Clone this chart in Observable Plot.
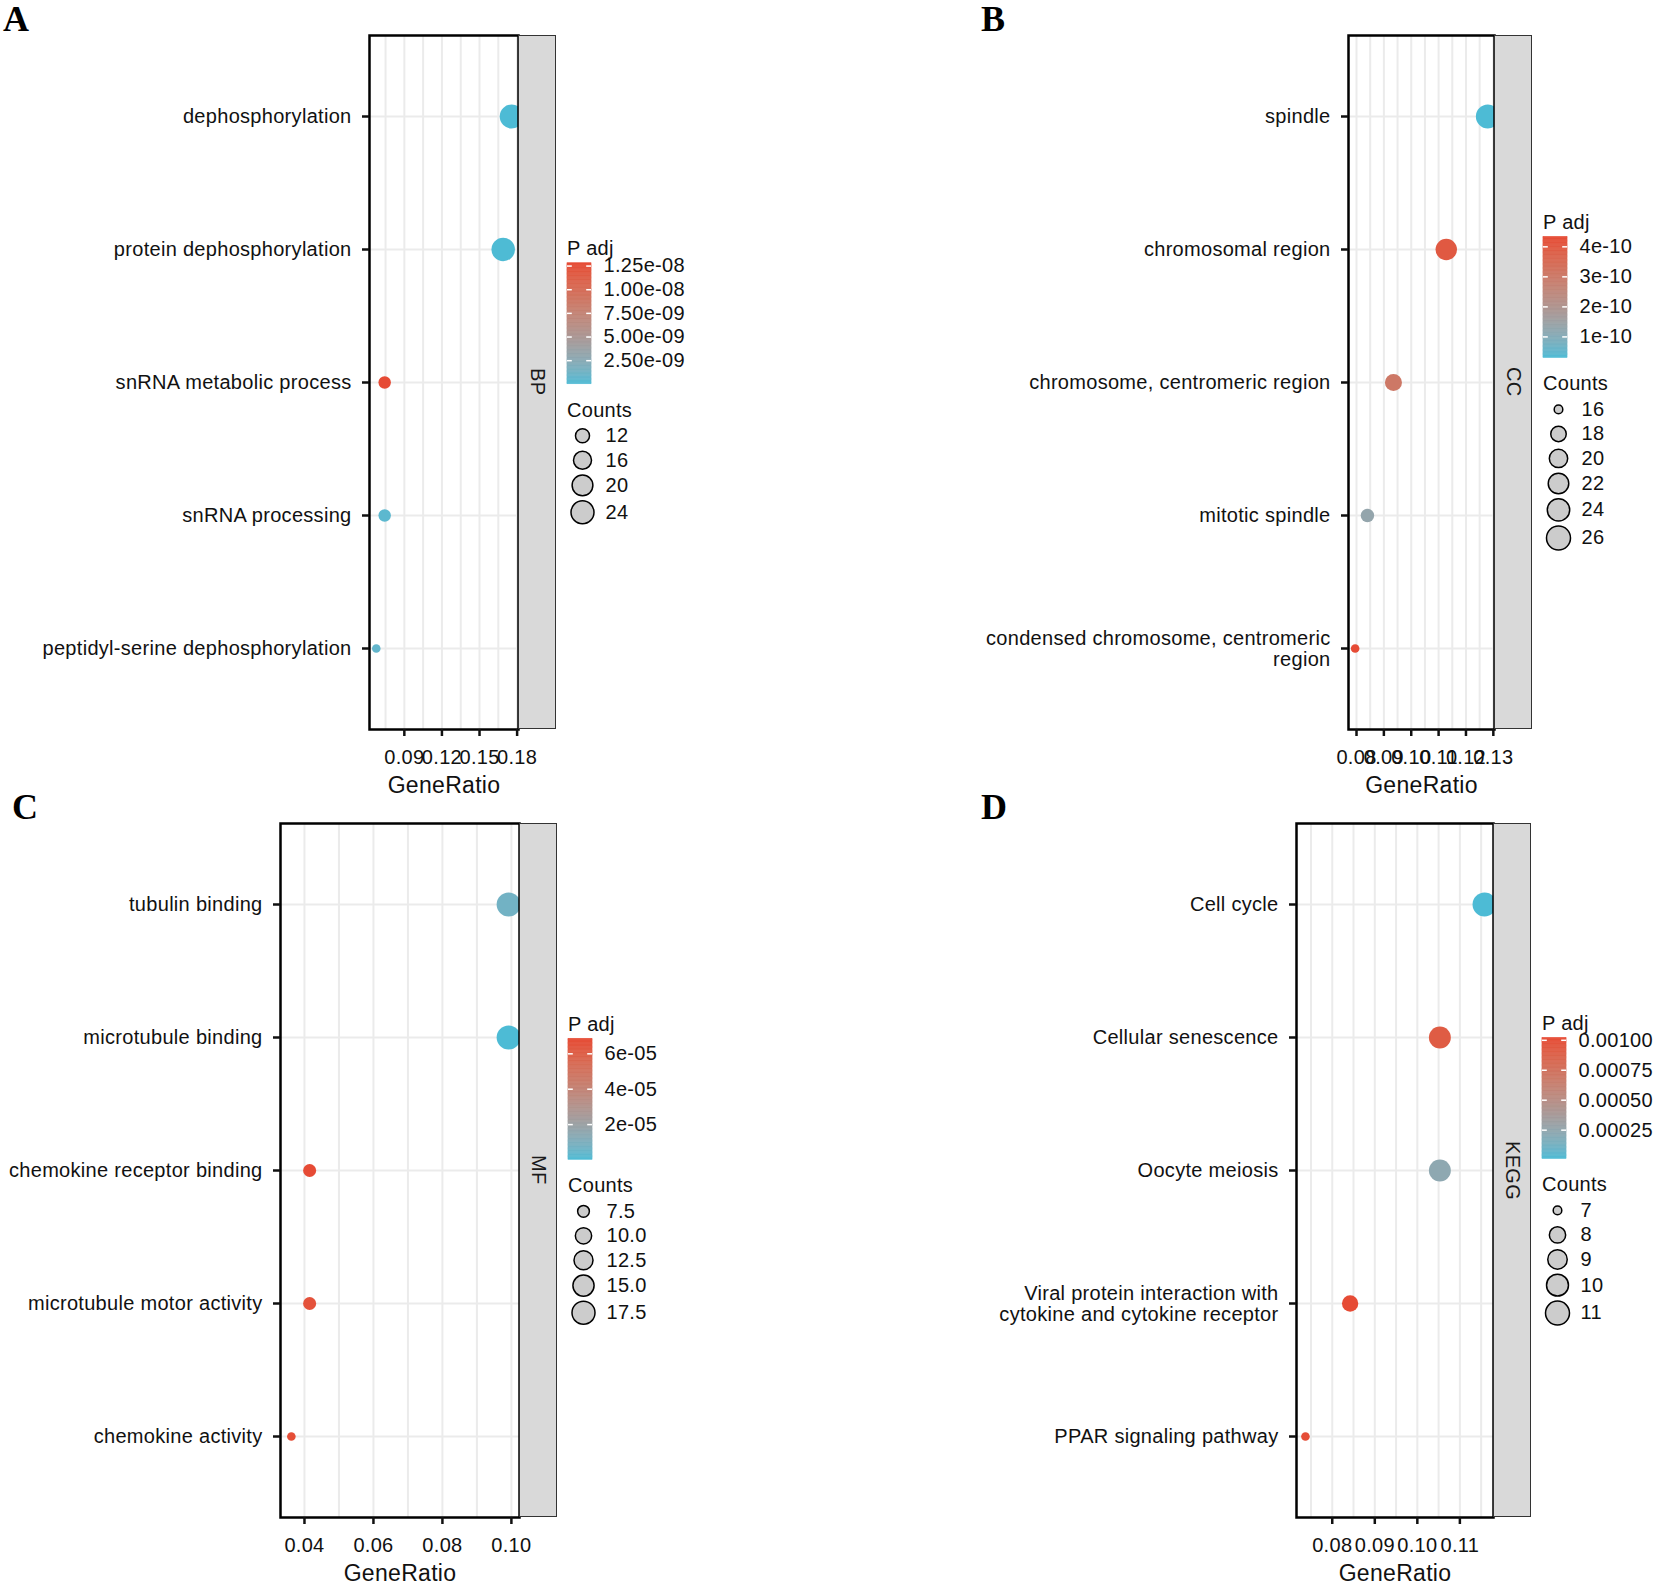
<!DOCTYPE html>
<html><head><meta charset="utf-8">
<script src="https://cdn.jsdelivr.net/npm/d3@7"></script>
<script src="https://cdn.jsdelivr.net/npm/@observablehq/plot@0.6"></script>
<style>
body{margin:0;background:#fff;}
#fig{position:relative;width:1654px;height:1585px;overflow:hidden;background:#fff;font-family:"Liberation Sans",Arial,sans-serif;}
.abs{position:absolute;}
.letter{font-family:"Liberation Serif","Times New Roman",serif;font-weight:bold;font-size:36px;line-height:1;color:#000;}
.strip{background:#d9d9d9;border:1.5px solid #333;box-sizing:border-box;display:flex;align-items:center;justify-content:center;}
.strip span{writing-mode:vertical-rl;font-size:20px;color:#1a1a1a;letter-spacing:0.3px;}
.ltitle{font-size:20px;line-height:24px;color:#111;letter-spacing:0.3px;white-space:nowrap;}
</style></head><body><div id="fig"></div>
<script>
// ---------- A: BP ----------
const bpTerms = ["dephosphorylation","protein dephosphorylation","snRNA metabolic process","snRNA processing","peptidyl-serine dephosphorylation"];
const bpRatio = [0.1757,0.1689,0.0743,0.0743,0.0676];
const bpCount = [26,25,11,11,10];
const bpPadj = [1.2e-11,5.0e-11,1.28e-8,4.5e-10,7.0e-10];
const bpTicks = [0.09,0.12,0.15,0.18];
const bpTickLabels = ["0.09","0.12","0.15","0.18"];
const bpPadjBreaks = [1.25e-8,1.0e-8,7.5e-9,5.0e-9,2.5e-9];
const bpPadjLabels = ["1.25e-08","1.00e-08","7.50e-09","5.00e-09","2.50e-09"];
const bpCountBreaks = [12,16,20,24];
const bpCountLabels = ["12","16","20","24"];

// ---------- B: CC ----------
const ccTerms = ["spindle","chromosomal region","chromosome, centromeric region","mitotic spindle","condensed chromosome, centromeric\nregion"];
const ccRatio = [0.1280,0.1128,0.0935,0.0840,0.0795];
const ccCount = [26,23,19,17,16];
const ccPadj = [3.0e-11,4.0e-10,3.05e-10,1.3e-10,4.33e-10];
const ccTicks = [0.08,0.09,0.10,0.11,0.12,0.13];
const ccTickLabels = ["0.08","0.09","0.10","0.11","0.12","0.13"];
const ccPadjBreaks = [4e-10,3e-10,2e-10,1e-10];
const ccPadjLabels = ["4e-10","3e-10","2e-10","1e-10"];
const ccCountBreaks = [16,18,20,22,24,26];
const ccCountLabels = ["16","18","20","22","24","26"];

// ---------- C: MF ----------
const mfTerms = ["tubulin binding","microtubule binding","chemokine receptor binding","microtubule motor activity","chemokine activity"];
const mfRatio = [0.0992,0.0992,0.0415,0.0415,0.0362];
const mfCount = [19,19,8,8,7];
const mfPadj = [7.0e-6,1.0e-7,6.85e-5,6.6e-5,6.75e-5];
const mfTicks = [0.04,0.06,0.08,0.10];
const mfTickLabels = ["0.04","0.06","0.08","0.10"];
const mfPadjBreaks = [6e-5,4e-5,2e-5];
const mfPadjLabels = ["6e-05","4e-05","2e-05"];
const mfCountBreaks = [7.5,10,12.5,15,17.5];
const mfCountLabels = ["7.5","10.0","12.5","15.0","17.5"];

// ---------- D: KEGG ----------
const keggTerms = ["Cell cycle","Cellular senescence","Oocyte meiosis","Viral protein interaction with\ncytokine and cytokine receptor","PPAR signaling pathway"];
const keggRatio = [0.1158,0.1053,0.1053,0.0842,0.0737];
const keggCount = [11,10,10,8,7];
const keggPadj = [1.0e-5,9.2e-4,2.3e-4,1.02e-3,1.01e-3];
const keggTicks = [0.08,0.09,0.10,0.11];
const keggTickLabels = ["0.08","0.09","0.10","0.11"];
const keggPadjBreaks = [0.001,0.00075,0.0005,0.00025];
const keggPadjLabels = ["0.00100","0.00075","0.00050","0.00025"];
const keggCountBreaks = [7,8,9,10,11];
const keggCountLabels = ["7","8","9","10","11"];

const panels = [
  {letter:"A", strip:"BP", terms:bpTerms, ratio:bpRatio, count:bpCount, padj:bpPadj, ticks:bpTicks, tickLabels:bpTickLabels,
   pb:bpPadjBreaks, pl:bpPadjLabels, cb:bpCountBreaks, cl:bpCountLabels,
   L:{oy:0, svgLeft:0, frameL:369, frameR:518, letterX:3}},
  {letter:"B", strip:"CC", terms:ccTerms, ratio:ccRatio, count:ccCount, padj:ccPadj, ticks:ccTicks, tickLabels:ccTickLabels,
   pb:ccPadjBreaks, pl:ccPadjLabels, cb:ccCountBreaks, cl:ccCountLabels,
   L:{oy:0, svgLeft:827, frameL:1348, frameR:1494, letterX:981}},
  {letter:"C", strip:"MF", terms:mfTerms, ratio:mfRatio, count:mfCount, padj:mfPadj, ticks:mfTicks, tickLabels:mfTickLabels,
   pb:mfPadjBreaks, pl:mfPadjLabels, cb:mfCountBreaks, cl:mfCountLabels,
   L:{oy:788, svgLeft:0, frameL:280, frameR:519, letterX:12}},
  {letter:"D", strip:"KEGG", terms:keggTerms, ratio:keggRatio, count:keggCount, padj:keggPadj, ticks:keggTicks, tickLabels:keggTickLabels,
   pb:keggPadjBreaks, pl:keggPadjLabels, cb:keggCountBreaks, cl:keggCountLabels,
   L:{oy:788, svgLeft:827, frameL:1296, frameR:1493, letterX:981}}
];

const LOW = "#4DBBD5", HIGH = "#E64B35";
const RMIN = 4.3, RMAX = 12;
const FRAME_TOP = 35, FRAME_BOTTOM = 729, STRIP_W = 38;
const baseStyle = {fontFamily:'"Liberation Sans", Arial, sans-serif', letterSpacing:"0.3px", background:"transparent", overflow:"visible", color:"#111"};
const fig = document.getElementById("fig");

function place(el, left, top){ el.style.position="absolute"; el.style.left=left+"px"; el.style.top=top+"px"; fig.appendChild(el); return el; }
function div(cls, text, left, top, extra){ const d=document.createElement("div"); d.className="abs "+cls; if(text!=null) d.textContent=text; Object.assign(d.style, extra||{}); return place(d,left,top); }

function colorCfg(P){ return {type:"linear", domain:d3.extent(P.padj), range:[LOW,HIGH], interpolate:"lab"}; }
function rCfg(P){ const cmin=d3.min(P.count), cmax=d3.max(P.count);
  return {type:"sqrt", domain:[0, cmax-cmin+1e-6], range:[RMIN,RMAX], transform: v => v - cmin + 1e-6}; }
function radius(P, v){ const cmin=d3.min(P.count), cmax=d3.max(P.count); return RMIN + Math.sqrt((v-cmin)/(cmax-cmin))*(RMAX-RMIN); }

for (const P of panels){
  const L = P.L;
  const data = P.terms.map((t,i)=>({term:t, ratio:P.ratio[i], count:P.count[i], padj:P.padj[i]}));
  const [x0,x1] = d3.extent(P.ratio); const pad=(x1-x0)*0.05; const xdom=[x0-pad,x1+pad];
  const step = P.ticks[1]-P.ticks[0];
  const minor = [P.ticks[0]-step/2, ...P.ticks.map(t=>t+step/2)].filter(v=>v>xdom[0] && v<xdom[1]);

  const main = Plot.plot({
    width: L.frameR + 2 - L.svgLeft, height: 800,
    marginLeft: L.frameL - L.svgLeft, marginRight: 2, marginTop: FRAME_TOP, marginBottom: 800 - FRAME_BOTTOM,
    style: baseStyle,
    x: {domain: xdom, label: null},
    y: {type: "point", domain: P.terms, padding: 0.6, label: null},
    color: colorCfg(P),
    r: rCfg(P),
    marks: [
      Plot.ruleX([...P.ticks, ...minor], {stroke:"#ebebeb", strokeWidth:2}),
      Plot.ruleY(P.terms, {stroke:"#ebebeb", strokeWidth:2}),
      Plot.dot(data, {x:"ratio", y:"term", r:"count", fill:"padj", clip:true}),
      Plot.frame({stroke:"black", strokeWidth:2.5}),
      Plot.axisX(P.ticks, {anchor:"bottom", tickSize:7, tickPadding:13, fontSize:20, strokeWidth:2.5, color:"#111",
        tickFormat: d => P.tickLabels[P.ticks.indexOf(d)], label:null}),
      Plot.axisY(P.terms, {anchor:"left", tickSize:7, tickPadding:11, fontSize:20, lineHeight:1.08, strokeWidth:2.5, color:"#111",
        tickFormat: d => d, label:null}),
      Plot.text(["GeneRatio"], {frameAnchor:"bottom", dy:63, fontSize:23, fill:"#111"})
    ]
  });
  place(main, L.svgLeft, L.oy);

  // strip
  const s = div("strip", null, L.frameR, L.oy + FRAME_TOP, {width:STRIP_W+"px", height:(FRAME_BOTTOM-FRAME_TOP)+"px"});
  const sp = document.createElement("span"); sp.textContent = P.strip; s.appendChild(sp);

  // letter
  div("letter", P.letter, L.letterX, L.oy + 1);

  // legend layout (centered on panel)
  const barLeft = L.frameR + STRIP_W + 11;
  const center = L.oy + (FRAME_TOP + FRAME_BOTTOM)/2;
  const h = P.cb.map(v => Math.max(24.5, 2*radius(P,v) + 5));
  const c = [0]; for (let i=1;i<h.length;i++) c.push(c[i-1] + (h[i-1]+h[i])/2);
  const bottomRel = 187 + c[c.length-1] + h[h.length-1]/2;
  const T = center - (-10 + bottomRel)/2;
  const barTop = T + 14.5, barBot = barTop + 121;

  // colour legend
  const ext = d3.extent(P.padj);
  const nb = 90;
  const bins = d3.range(nb).map(i => ({lo: ext[0]+(ext[1]-ext[0])*i/nb, hi: ext[0]+(ext[1]-ext[0])*(i+1)/nb}));
  const breaks = P.pb.filter(v => v>=ext[0] && v<=ext[1]);
  const cleg = Plot.plot({
    width: 1654 - barLeft, height: 800, marginLeft:0, marginRight:0, marginTop:0, marginBottom:0,
    style: baseStyle,
    x: {domain:[0,1], range:[0,24], axis:null},
    y: {domain: ext, range:[barBot - L.oy, barTop - L.oy], axis:null},
    color: colorCfg(P),
    marks: [
      Plot.rect(bins, {x1:0, x2:1, y1:"lo", y2:"hi", fill: d=>(d.lo+d.hi)/2, stroke: d=>(d.lo+d.hi)/2, strokeWidth:0.6}),
      Plot.ruleY(breaks, {y: d=>d, x1:0, x2:0.2, stroke:"white", strokeWidth:1.5}),
      Plot.ruleY(breaks, {y: d=>d, x1:0.8, x2:1, stroke:"white", strokeWidth:1.5}),
      Plot.text(breaks, {x:1, y:d=>d, text: d => P.pl[P.pb.indexOf(d)], dx:12, textAnchor:"start", fontSize:20, fill:"#111"})
    ]
  });
  place(cleg, barLeft, L.oy);
  div("ltitle", "P adj", barLeft, T - 12);
  div("ltitle", "Counts", barLeft, T + 161.5 - 12);

  // size legend
  const keys = P.cb.map((v,i) => ({v, label: P.cl[i], cy: T + 187 + c[i] - L.oy}));
  const sleg = Plot.plot({
    width: 1654 - barLeft, height: 800, marginLeft:0, marginRight:0, marginTop:0, marginBottom:0,
    style: baseStyle,
    x: {type:"identity", axis:null}, y: {type:"identity", axis:null},
    r: rCfg(P),
    marks: [
      Plot.dot(keys, {frameAnchor:"left", dx:15, y:"cy", r:"v", fill:"#cccccc", stroke:"black", strokeWidth:1.5}),
      Plot.text(keys, {frameAnchor:"left", dx:38, y:"cy", text:"label", textAnchor:"start", fontSize:20, fill:"#111"})
    ]
  });
  place(sleg, barLeft, L.oy);
}
</script></body></html>
